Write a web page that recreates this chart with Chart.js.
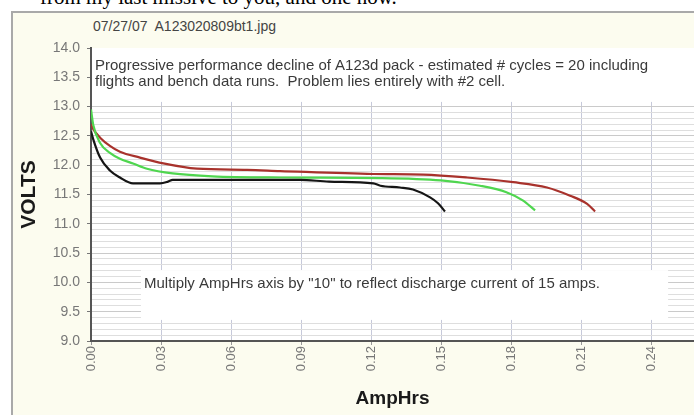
<!DOCTYPE html>
<html>
<head>
<meta charset="utf-8">
<script src="https://cdn.jsdelivr.net/npm/chart.js@4"></script>
<style>
html, body { margin: 0; padding: 0; background: #fff; overflow: hidden; width: 694px; height: 415px; }
#page { position: absolute; left: 40px; top: -13px; font: 21px/21px "Liberation Serif", serif; color: #000; white-space: nowrap; }
#panel { position: absolute; left: 11px; top: 11px; width: 700px; height: 420px; background: #fcfcef; border-left: 2px solid #a9a9a9; border-top: 2px solid #a9a9a9; }
#fname { position: absolute; left: 93px; top: 18px; font: 14px "Liberation Sans", Arial, sans-serif; color: #444; white-space: pre; }
#c { position: absolute; left: 0; top: 0; }
</style>
</head>
<body>
<div id="page">from my last missive to you, and one now.</div>
<div id="panel"></div>
<div id="fname">07/27/07  A123020809bt1.jpg</div>
<canvas id="c" width="694" height="415"></canvas>
<script>
// discharge curves (AmpHrs, volts)
const blackAh = [0, 0.0009, 0.0039, 0.0081, 0.0124, 0.018, 0.0296, 0.033, 0.035, 0.0896, 0.102, 0.121, 0.124, 0.1324, 0.138, 0.1453, 0.1487, 0.1517];
const blackV  = [12.58, 12.45, 12.13, 11.91, 11.79, 11.69, 11.69, 11.72, 11.75, 11.75, 11.72, 11.69, 11.65, 11.62, 11.585, 11.45, 11.35, 11.21];

const greenAh = [0, 0.001, 0.0039, 0.0081, 0.0124, 0.018, 0.024, 0.035, 0.052, 0.081, 0.124, 0.150, 0.1667, 0.178, 0.185, 0.1903];
const greenV  = [12.95, 12.68, 12.38, 12.21, 12.11, 12.03, 11.94, 11.86, 11.81, 11.79, 11.78, 11.74, 11.65, 11.54, 11.40, 11.23];

const redAh = [0, 0.0009, 0.0039, 0.0081, 0.0124, 0.021, 0.031, 0.0454, 0.0669, 0.081, 0.121, 0.1423, 0.1611, 0.1809, 0.1954, 0.2053, 0.2126, 0.216];
const redV  = [12.7, 12.62, 12.47, 12.33, 12.23, 12.13, 12.03, 11.94, 11.92, 11.90, 11.85, 11.84, 11.79, 11.71, 11.62, 11.48, 11.34, 11.21];

const xTicks = [0, 0.03, 0.06, 0.09, 0.12, 0.15, 0.18, 0.21, 0.24];
const yLabels = [9.0, 9.5, 10.0, 10.5, 11.0, 11.5, 12.0, 12.5, 13.0, 13.5, 14.0];

const noteTop = ['Progressive performance decline of A123d pack - estimated # cycles = 20 including',
                 'flights and bench data runs.  Problem lies entirely with #2 cell.'];
const noteBottom = ['Multiply AmpHrs axis by "10" to reflect discharge current of 15 amps.'];

const FONT = '"Liberation Sans", Arial, sans-serif';
Chart.defaults.font.family = FONT;

// minor horizontal lines every 0.1 V
const yGrid = [];
for (let i = 0; i <= 50; i++) yGrid.push(Math.round((9 + i / 10) * 10) / 10);
const isMajor = v => yLabels.some(l => Math.abs(l - v) < 1e-6);

const toPts = (xs, ys) => xs.map((x, i) => ({ x: x, y: ys[i] }));

// white note boxes laid over the grid, placed in data units
const notes = [
  { x0: 0, x1: 0.2584, y0: 13.08, y1: 14.0, tx: 0.0017, ty: [13.69, 13.42], lines: noteTop },
  { x0: 0.0214, x1: 0.2473, y0: 9.36, y1: 10.21, tx: 0.0227, ty: [9.98], lines: noteBottom }
];

const notesPlugin = {
  id: 'notes',
  beforeDraw(chart) {
    const { ctx, chartArea: a } = chart;
    ctx.save();
    ctx.fillStyle = '#fff';
    ctx.fillRect(a.left, a.top, a.right - a.left, a.bottom - a.top);
    ctx.restore();
  },
  beforeDatasetsDraw(chart) {
    const { ctx, chartArea: a, scales: { x, y } } = chart;
    ctx.save();
    notes.forEach(n => {
      const l = Math.max(x.getPixelForValue(n.x0), a.left + 1);
      const r = Math.min(x.getPixelForValue(n.x1), a.right);
      const t = Math.max(y.getPixelForValue(n.y1), a.top);
      const b = y.getPixelForValue(n.y0);
      ctx.fillStyle = '#fff';
      ctx.fillRect(l, t, r - l, b - t);
      ctx.fillStyle = '#3a3a3a';
      ctx.font = '15px ' + FONT;
      ctx.textBaseline = 'middle';
      n.lines.forEach((s, i) => ctx.fillText(s, x.getPixelForValue(n.tx), y.getPixelForValue(n.ty[i])));
    });
    ctx.restore();
  }
};

new Chart(document.getElementById('c'), {
  type: 'scatter',
  data: {
    datasets: [
      { label: 'black', data: toPts(blackAh, blackV), borderColor: '#151515' },
      { label: 'green', data: toPts(greenAh, greenV), borderColor: '#4fd64f' },
      { label: 'red', data: toPts(redAh, redV), borderColor: '#a8322c' }
    ]
  },
  options: {
    responsive: false,
    animation: false,
    showLine: true,
    layout: { padding: { top: 48, left: 0, right: 0, bottom: 0 } },
    elements: {
      point: { radius: 0 },
      line: { borderWidth: 2.2, cubicInterpolationMode: 'monotone' }
    },
    plugins: { legend: { display: false }, tooltip: { enabled: false } },
    scales: {
      x: {
        type: 'linear',
        min: 0,
        max: 0.2584,
        afterBuildTicks: s => { s.ticks = xTicks.map(v => ({ value: v })); },
        afterFit: s => { s.height = 74; },
        ticks: {
          autoSkip: false,
          minRotation: 90,
          maxRotation: 90,
          padding: 1,
          color: '#777',
          font: { size: 13 },
          callback: v => v.toFixed(2)
        },
        grid: { color: '#c6c9da', tickLength: 4, tickColor: '#999' },
        border: { color: '#555', width: 2 },
        title: { display: true, text: 'AmpHrs', color: '#1a1a1a', font: { size: 19, weight: 'bold' }, padding: { top: 0, bottom: 5 } }
      },
      y: {
        min: 9,
        max: 14,
        afterBuildTicks: s => { s.ticks = yGrid.map(v => ({ value: v })); },
        afterFit: s => { s.width = 91; },
        ticks: {
          autoSkip: false,
          padding: 7,
          color: '#777',
          font: { size: 14 },
          callback: v => isMajor(v) ? v.toFixed(1) : ''
        },
        grid: {
          color: c => isMajor(c.tick.value) ? '#cacaca' : '#dedede',
          tickLength: 4,
          tickColor: c => isMajor(c.tick.value) ? '#777' : 'rgba(0,0,0,0)'
        },
        border: { color: '#555', width: 2 },
        title: { display: true, text: 'VOLTS', color: '#1a1a1a', font: { size: 21, weight: 'bold' }, padding: { top: 17, bottom: 0 } }
      }
    }
  },
  plugins: [notesPlugin]
});
</script>
</body>
</html>
